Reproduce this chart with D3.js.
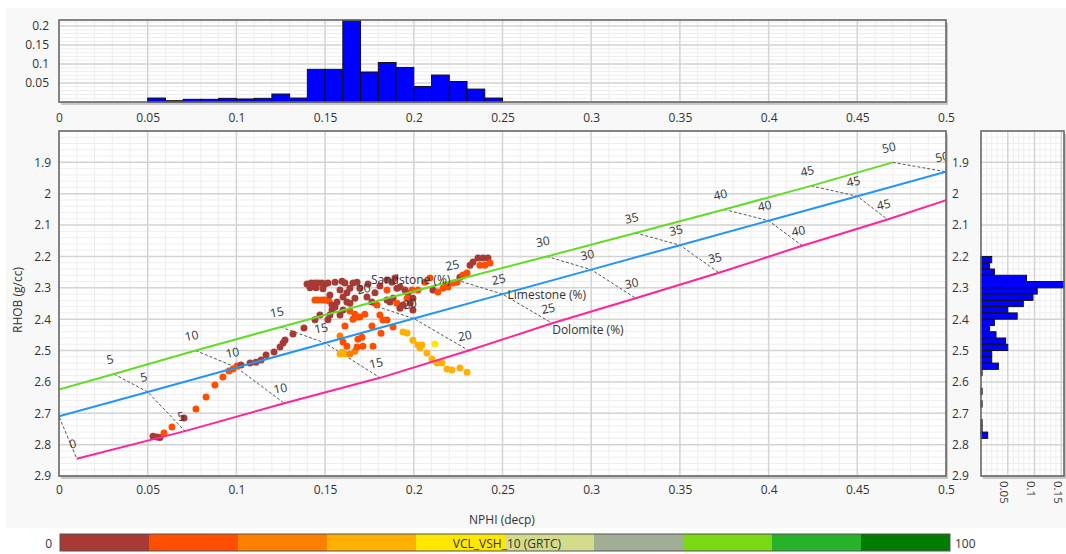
<!DOCTYPE html>
<html>
<head>
<meta charset="utf-8">
<script src="https://cdn.jsdelivr.net/npm/d3@7"></script>
<style>
  body { margin: 0; background: #fff; }
  text { font-family: "Open Sans", "Noto Sans", sans-serif; fill: #333; }
</style>
</head>
<body>
<script>
const width = 1066;
const height = 554;

// tick labels
const nphiTicks = [0, 0.05, 0.1, 0.15, 0.2, 0.25, 0.3, 0.35, 0.4, 0.45, 0.5];
const rhobTicks = [1.9, 2.0, 2.1, 2.2, 2.3, 2.4, 2.5, 2.6, 2.7, 2.8, 2.9];
const topFreqTicks = [0.05, 0.1, 0.15, 0.2];
const rightFreqTicks = [0.05, 0.1, 0.15];

// NPHI histogram (bin start, bin width 0.01)
const nphiBins = [0.05, 0.06, 0.07, 0.08, 0.09, 0.10, 0.11, 0.12, 0.13, 0.14, 0.15, 0.16, 0.17, 0.18, 0.19, 0.20, 0.21, 0.22, 0.23, 0.24];
const nphiFreq = [0.0104, 0.0035, 0.007, 0.007, 0.0096, 0.008, 0.0096, 0.021, 0.0104, 0.086, 0.086, 0.215, 0.079, 0.104, 0.091, 0.041, 0.071, 0.054, 0.034, 0.0104];

// RHOB histogram (bin start, bin width 0.02)
const rhobBins = [2.20, 2.22, 2.24, 2.26, 2.28, 2.30, 2.32, 2.34, 2.36, 2.38, 2.40, 2.42, 2.44, 2.46, 2.48, 2.50, 2.52, 2.54, 2.56, 2.62, 2.66, 2.72, 2.74, 2.76];
const rhobFreq = [0.020, 0.016, 0.025, 0.085, 0.16, 0.105, 0.097, 0.079, 0.050, 0.0675, 0.025, 0.016, 0.028, 0.046, 0.050, 0.020, 0.020, 0.0325, 0.002, 0.002, 0.002, 0.002, 0.002, 0.0125];

// crossplot lithology lines (porosity %, NPHI, RHOB)
const porosity = [0, 5, 10, 15, 20, 25, 30, 35, 40, 45, 50];
const sandNphi = [-0.016, 0.031, 0.077, 0.125, 0.174, 0.224, 0.275, 0.325, 0.375, 0.424, 0.470];
const sandRhob = [2.65, 2.575, 2.50, 2.425, 2.35, 2.275, 2.20, 2.125, 2.05, 1.975, 1.90];
const limeNphi = [0, 0.05, 0.1, 0.15, 0.2, 0.25, 0.3, 0.35, 0.4, 0.45, 0.5];
const limeRhob = [2.71, 2.632, 2.554, 2.476, 2.398, 2.32, 2.242, 2.164, 2.086, 2.008, 1.93];
const dolNphi = [0.010, 0.071, 0.127, 0.181, 0.231, 0.278, 0.325, 0.372, 0.419, 0.467, 0.514];
const dolRhob = [2.845, 2.757, 2.668, 2.587, 2.500, 2.413, 2.333, 2.252, 2.166, 2.082, 1.995];

// colour bar
const vclColors = ["#a83a36", "#ff4e00", "#ff8000", "#ffb000", "#ffe800", "#d3dc8a", "#a0ae94", "#78d914", "#26b32a", "#007c00"];

// samples: [NPHI, RHOB, VCL]
const samples = [
  [0.053, 2.773, 5], [0.0552, 2.776, 5], [0.0569, 2.777, 5], [0.0592, 2.763, 15], [0.0637, 2.744, 15],
  [0.0705, 2.715, 5], [0.0772, 2.686, 15], [0.0829, 2.648, 15], [0.0879, 2.610, 15], [0.0924, 2.584, 15],
  [0.0958, 2.565, 15], [0.0981, 2.559, 15], [0.1003, 2.549, 15], [0.1026, 2.546, 5], [0.1077, 2.540, 5],
  [0.1110, 2.537, 5], [0.1139, 2.530, 5], [0.1167, 2.514, 5], [0.1212, 2.505, 5], [0.1246, 2.489, 5],
  [0.1263, 2.476, 5], [0.1274, 2.466, 5], [0.1319, 2.447, 5], [0.1381, 2.428, 5], [0.1443, 2.402, 5],
  [0.1471, 2.387, 5], [0.1516, 2.402, 5], [0.1527, 2.387, 5], [0.1539, 2.371, 5],
  [0.1398, 2.288, 5], [0.1421, 2.285, 5], [0.1443, 2.285, 5], [0.1460, 2.285, 5], [0.1482, 2.285, 5],
  [0.1499, 2.288, 5], [0.1516, 2.285, 5], [0.1556, 2.282, 5], [0.1595, 2.279, 5], [0.1612, 2.285, 5],
  [0.1415, 2.300, 5], [0.1449, 2.300, 5], [0.1488, 2.303, 5],
  [0.1443, 2.339, 15], [0.1460, 2.339, 15], [0.1482, 2.339, 15], [0.1499, 2.339, 15], [0.1522, 2.342, 15],
  [0.1527, 2.323, 5], [0.1539, 2.355, 5], [0.1556, 2.361, 5], [0.1567, 2.345, 5], [0.1584, 2.307, 5],
  [0.1601, 2.329, 5], [0.1623, 2.316, 5], [0.1640, 2.301, 5], [0.1657, 2.285, 5], [0.1680, 2.282, 5],
  [0.1696, 2.301, 5], [0.1640, 2.349, 5], [0.1668, 2.333, 5], [0.1623, 2.345, 5], [0.1601, 2.371, 5],
  [0.1584, 2.387, 5],
  [0.1640, 2.374, 15], [0.1668, 2.384, 15], [0.1680, 2.393, 15], [0.1657, 2.400, 15], [0.1696, 2.393, 15],
  [0.1724, 2.384, 15], [0.1612, 2.422, 15], [0.1584, 2.454, 25], [0.1623, 2.486, 15], [0.1595, 2.505, 35],
  [0.1584, 2.511, 35], [0.1612, 2.511, 35], [0.1640, 2.511, 25], [0.1668, 2.502, 25], [0.1685, 2.464, 15],
  [0.1708, 2.458, 15], [0.1713, 2.486, 15], [0.1680, 2.489, 15], [0.1770, 2.486, 15], [0.1764, 2.422, 15],
  [0.1601, 2.473, 15], [0.1815, 2.445, 15],
  [0.1736, 2.329, 5], [0.1764, 2.345, 5], [0.1792, 2.355, 15], [0.1809, 2.387, 15], [0.1826, 2.403, 15],
  [0.1849, 2.403, 15], [0.1883, 2.425, 15], [0.1849, 2.307, 15], [0.1849, 2.339, 5], [0.1866, 2.345, 5],
  [0.1883, 2.333, 5], [0.1905, 2.349, 15], [0.1922, 2.365, 5], [0.1939, 2.355, 5], [0.1905, 2.301, 5],
  [0.1922, 2.297, 5], [0.1950, 2.307, 5], [0.1967, 2.317, 5], [0.1990, 2.307, 15], [0.1962, 2.333, 15],
  [0.1995, 2.333, 5], [0.1979, 2.349, 5], [0.1995, 2.371, 5], [0.1849, 2.275, 5], [0.1877, 2.282, 5],
  [0.1894, 2.269, 5], [0.1742, 2.288, 5], [0.1781, 2.316, 5], [0.1809, 2.294, 5], [0.2024, 2.307, 15],
  [0.2063, 2.282, 15], [0.2091, 2.269, 15], [0.2108, 2.307, 5],
  [0.1939, 2.441, 35], [0.1962, 2.444, 35], [0.1995, 2.467, 35], [0.2024, 2.482, 35], [0.2046, 2.482, 35],
  [0.2035, 2.492, 35], [0.2120, 2.479, 45], [0.2074, 2.508, 35], [0.2103, 2.527, 35], [0.2131, 2.540, 35],
  [0.2159, 2.540, 35], [0.2187, 2.559, 35], [0.2215, 2.562, 35], [0.2260, 2.556, 35], [0.2300, 2.569, 35],
  [0.2136, 2.313, 15], [0.2165, 2.301, 15], [0.2176, 2.291, 15], [0.2193, 2.297, 15], [0.2221, 2.285, 15],
  [0.2244, 2.282, 15], [0.2260, 2.266, 5], [0.2277, 2.259, 15], [0.2300, 2.253, 15], [0.2317, 2.228, 5],
  [0.2334, 2.218, 5], [0.2362, 2.205, 5], [0.2390, 2.205, 5], [0.2418, 2.205, 5], [0.2373, 2.228, 15],
  [0.2401, 2.228, 15], [0.2430, 2.221, 15]
];

const fmt = d => String(+d.toFixed(3));

let svg = d3.select("body").append("svg").attr("width", width).attr("height", height);
svg.append("rect").attr("x", 6).attr("y", 8).attr("width", width - 6).attr("height", 520).attr("fill", "#f8f8f8");

// scales
let x = d3.scaleLinear().domain([0, 0.5]).range([59, 946]);
let y = d3.scaleLinear().domain([1.8, 2.9]).range([131, 476]);
let yTop = d3.scaleLinear().domain([0, 0.216]).range([102, 20]);
let xRight = d3.scaleLinear().domain([0, 0.155]).range([981, 1064]);
let vclColor = d3.scaleQuantize().domain([0, 100]).range(vclColors);

function box(x0, y0, x1, y1)
{
    svg.append("rect").attr("x", x0 + 2).attr("y", y0 + 3).attr("width", x1 - x0).attr("height", y1 - y0)
        .attr("fill", "#c8c8c8");
    svg.append("rect").attr("x", x0).attr("y", y0).attr("width", x1 - x0).attr("height", y1 - y0)
        .attr("fill", "#fff");
}

function grid(xs, ys, xMinor, xMajor, yMinor, yMajor)
{
    let g = svg.append("g");
    const [xa, xb] = xs.range(), [ya, yb] = ys.range();
    const lines = (vals, vertical, color, w) => {
        vals.forEach(v => {
            if (vertical) g.append("line").attr("x1", xs(v)).attr("x2", xs(v)).attr("y1", ya).attr("y2", yb)
                .attr("stroke", color).attr("stroke-width", w);
            else g.append("line").attr("x1", xa).attr("x2", xb).attr("y1", ys(v)).attr("y2", ys(v))
                .attr("stroke", color).attr("stroke-width", w);
        });
    };
    lines(xMinor, true, "#eeeeee", 1);
    lines(yMinor, false, "#eeeeee", 1);
    lines(xMajor, true, "#d4d4d4", 1.5);
    lines(yMajor, false, "#d4d4d4", 1.5);
}

function border(x0, y0, x1, y1)
{
    svg.append("rect").attr("x", x0).attr("y", y0).attr("width", x1 - x0).attr("height", y1 - y0)
        .attr("fill", "none").attr("stroke", "#666").attr("stroke-width", 1.6);
}

const minorN = d3.range(0.01, 0.5, 0.01);

// ---------- top histogram ----------
box(59, 20, 946, 102);
grid(x, yTop, minorN, nphiTicks.slice(1, -1), d3.range(0.01, 0.216, 0.01), topFreqTicks);
svg.append("g").selectAll("rect").data(nphiBins).enter().append("rect")
    .attr("x", d => x(d))
    .attr("width", d => x(d + 0.01) - x(d))
    .attr("y", (d, i) => yTop(Math.min(nphiFreq[i], 0.216)))
    .attr("height", (d, i) => yTop(0) - yTop(Math.min(nphiFreq[i], 0.216)))
    .attr("fill", "#0000ff").attr("stroke", "#111").attr("stroke-width", 1);
border(59, 20, 946, 102);

let topX = svg.append("g").attr("transform", "translate(0,102)")
    .call(d3.axisBottom(x).tickValues(nphiTicks).tickSize(0).tickPadding(11).tickFormat(fmt));
let topY = svg.append("g").attr("transform", "translate(59,0)")
    .call(d3.axisLeft(yTop).tickValues(topFreqTicks).tickSize(0).tickPadding(10).tickFormat(fmt));

// ---------- main crossplot ----------
box(59, 131, 946, 476);
grid(x, y, minorN, nphiTicks.slice(1, -1), d3.range(1.82, 2.9, 0.02), rhobTicks);

svg.append("clipPath").attr("id", "plotclip").append("rect")
    .attr("x", 59).attr("y", 131).attr("width", 887).attr("height", 345);
let plot = svg.append("g").attr("clip-path", "url(#plotclip)");

let line = d3.line().x(d => x(d[0])).y(d => y(d[1]));
const sand = sandNphi.map((n, i) => [n, sandRhob[i]]);
const lime = limeNphi.map((n, i) => [n, limeRhob[i]]);
const dol = dolNphi.map((n, i) => [n, dolRhob[i]]);

// tie lines between equal porosities
porosity.forEach((p, i) => {
    plot.append("path").attr("d", line([sand[i], lime[i], dol[i]]))
        .attr("fill", "none").attr("stroke", "#555").attr("stroke-width", 1)
        .attr("stroke-dasharray", "3,2");
});

// scatter points
plot.append("g").selectAll("circle").data(samples).enter().append("circle")
    .attr("cx", d => x(d[0]))
    .attr("cy", d => y(d[1]))
    .attr("r", 3.5)
    .attr("fill", d => vclColor(d[2]));

const lithos = [
    {pts: sand, color: "#62dc24"},
    {pts: lime, color: "#2196f8"},
    {pts: dol, color: "#ff2598"}
];
lithos.forEach(l => {
    plot.append("path").attr("d", line(l.pts)).attr("fill", "none")
        .attr("stroke", l.color).attr("stroke-width", 2);
    l.pts.forEach((d, i) => {
        plot.append("text")
            .attr("transform", `translate(${x(d[0]) - 4},${y(d[1]) - 15}) rotate(-12)`)
            .attr("text-anchor", "middle").attr("dominant-baseline", "central")
            .attr("font-size", 12).text(porosity[i]);
    });
});

// lithology names at 25%
plot.append("text").attr("x", x(sand[5][0]) - 6).attr("y", y(sand[5][1]))
    .attr("text-anchor", "end").attr("dominant-baseline", "central").attr("font-size", 12)
    .text("Sandstone (%)");
plot.append("text").attr("x", x(lime[5][0]) + 5).attr("y", y(lime[5][1]))
    .attr("dominant-baseline", "central").attr("font-size", 12).text("Limestone (%)");
plot.append("text").attr("x", x(dol[5][0])).attr("y", y(dol[5][1]) + 6)
    .attr("dominant-baseline", "central").attr("font-size", 12).text("Dolomite (%)");

border(59, 131, 946, 476);

let mainX = svg.append("g").attr("transform", "translate(0,476)")
    .call(d3.axisBottom(x).tickValues(nphiTicks).tickSize(0).tickPadding(9).tickFormat(fmt));
let mainY = svg.append("g").attr("transform", "translate(59,0)")
    .call(d3.axisLeft(y).tickValues(rhobTicks).tickSize(0).tickPadding(8).tickFormat(fmt));

svg.append("text").attr("x", 502).attr("y", 524).attr("text-anchor", "middle")
    .attr("font-size", 12).text("NPHI (decp)");
svg.append("text").attr("transform", "translate(22,300) rotate(-90)").attr("text-anchor", "middle")
    .attr("font-size", 12).text("RHOB (g/cc)");

// ---------- right histogram ----------
box(981, 131, 1064, 476);
grid(xRight, y, d3.range(0.01, 0.155, 0.01), rightFreqTicks, d3.range(1.82, 2.9, 0.02), rhobTicks);
svg.append("g").selectAll("rect").data(rhobBins).enter().append("rect")
    .attr("x", xRight(0))
    .attr("y", d => y(d))
    .attr("height", d => y(d + 0.02) - y(d))
    .attr("width", (d, i) => xRight(Math.min(rhobFreq[i], 0.155)) - xRight(0))
    .attr("fill", "#0000ff").attr("stroke", "#111").attr("stroke-width", 1);
border(981, 131, 1064, 476);

let rightY = svg.append("g").attr("transform", "translate(946,0)")
    .call(d3.axisRight(y).tickValues(rhobTicks).tickSize(0).tickPadding(6).tickFormat(fmt));
svg.append("g").selectAll("text").data(rightFreqTicks).enter().append("text")
    .attr("transform", d => `translate(${xRight(d) - 3},481) rotate(90)`)
    .attr("dominant-baseline", "central").attr("font-size", 11.5)
    .text(fmt);

[topX, topY, mainX, mainY, rightY].forEach(a => {
    a.select(".domain").remove();
    a.selectAll("text").attr("font-size", 12).attr("font-family", "Open Sans, Noto Sans, sans-serif")
        .attr("fill", "#333");
});

// ---------- colour bar ----------
let band = d3.scaleBand().domain(d3.range(vclColors.length)).range([60, 950]);
svg.append("g").selectAll("rect").data(vclColors).enter().append("rect")
    .attr("x", (d, i) => band(i)).attr("y", 534)
    .attr("width", band.bandwidth()).attr("height", 17)
    .attr("fill", d => d);
svg.append("rect").attr("x", 60).attr("y", 534).attr("width", 890).attr("height", 17)
    .attr("fill", "none").attr("stroke", "#555").attr("stroke-width", 1);
svg.append("text").attr("x", 52).attr("y", 543).attr("text-anchor", "end")
    .attr("dominant-baseline", "central").attr("font-size", 12).text("0");
svg.append("text").attr("x", 955).attr("y", 543)
    .attr("dominant-baseline", "central").attr("font-size", 12).text("100");
svg.append("text").attr("x", 507).attr("y", 543).attr("text-anchor", "middle")
    .attr("dominant-baseline", "central").attr("font-size", 12).attr("fill", "#222")
    .text("VCL_VSH_10 (GRTC)");
</script>
</body>
</html>
